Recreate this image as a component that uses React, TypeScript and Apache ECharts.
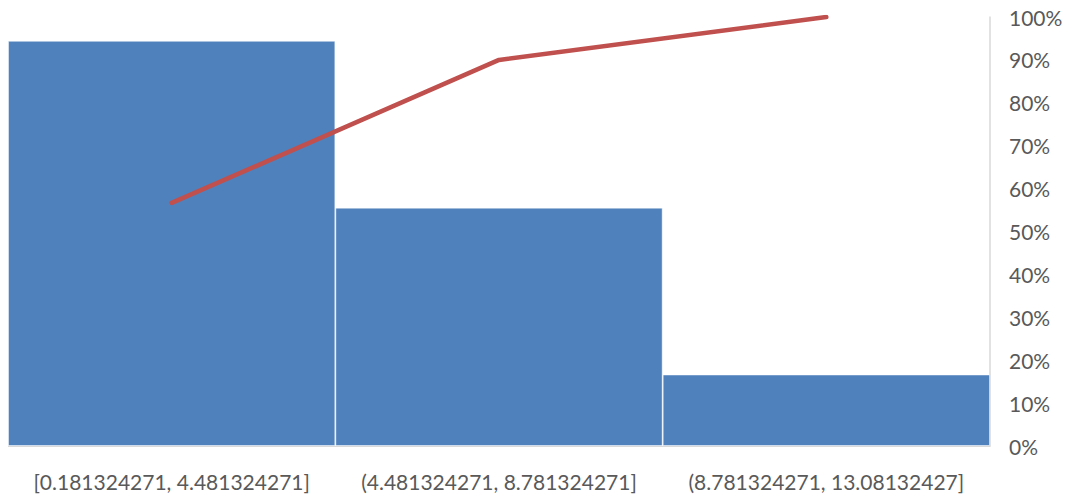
import React, { useEffect, useRef } from "react";
import * as echarts from "echarts";

// Histogram bins and their counts
const categories = [
  "[0.181324271, 4.481324271]",
  "(4.481324271, 8.781324271]",
  "(8.781324271, 13.08132427]",
];
const counts = [17, 10, 3];
// Cumulative share of counts for the Pareto line
const cumulative = [0.5667, 0.9, 1.0];

export default function App() {
  const ref = useRef<HTMLDivElement>(null);

  useEffect(() => {
    if (!ref.current) return;
    const chart = echarts.init(ref.current, undefined, { renderer: "svg" });
    const font = "Lato, 'Open Sans', sans-serif";
    chart.setOption({
      animation: false,
      backgroundColor: "#ffffff",
      grid: { left: 8, right: 80, top: 17, bottom: 50, containLabel: false },
      xAxis: {
        type: "category",
        data: categories,
        axisLine: { show: true, lineStyle: { color: "#D9D9D9", width: 1 } },
        axisTick: { show: false },
        axisLabel: {
          color: "#595959",
          fontSize: 21,
          fontFamily: font,
          margin: 25,
          interval: 0,
        },
      },
      yAxis: [
        {
          type: "value",
          min: 0,
          max: 18,
          show: false,
          splitLine: { show: false },
        },
        {
          type: "value",
          position: "right",
          min: 0,
          max: 1,
          interval: 0.1,
          axisLine: { show: true, lineStyle: { color: "#D9D9D9", width: 1.5 } },
          axisTick: { show: false },
          splitLine: { show: false },
          axisLabel: {
            color: "#595959",
            fontSize: 21,
            fontFamily: font,
            margin: 19,
            formatter: (v: number) => `${Math.round(v * 100)}%`,
          },
        },
      ],
      series: [
        {
          type: "bar",
          data: counts,
          yAxisIndex: 0,
          barCategoryGap: "0%",
          itemStyle: {
            color: "#4F81BD",
            borderColor: "rgba(255,255,255,0.45)",
            borderWidth: 1,
          },
        },
        {
          type: "line",
          data: cumulative,
          yAxisIndex: 1,
          symbol: "none",
          lineStyle: { color: "#C0504D", width: 4.5, cap: "round" },
        },
      ],
    });
    return () => chart.dispose();
  }, []);

  // Cancel the body's default margin so the chart covers the whole window
  return (
    <div
      ref={ref}
      style={{ width: 1070, height: 496, margin: "-8px 0 0 -8px" }}
    />
  );
}
